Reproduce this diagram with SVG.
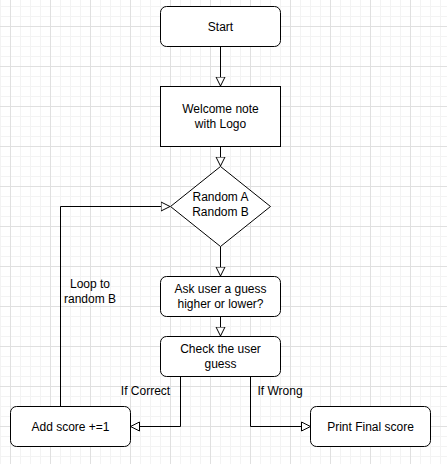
<svg xmlns="http://www.w3.org/2000/svg" width="447" height="464" viewBox="0 0 447 464">
<defs>
<pattern id="minor" x="0" y="6" width="10" height="10" patternUnits="userSpaceOnUse">
<path d="M0.5,0 V10 M0,0.5 H10" stroke="#f3f3f3" stroke-width="1" fill="none"/>
</pattern>
<pattern id="major" x="10" y="26" width="40" height="40" patternUnits="userSpaceOnUse">
<path d="M0.5,0 V40 M0,0.5 H40" stroke="#e0e0e0" stroke-width="1" fill="none"/>
</pattern>
<marker id="arr" markerUnits="userSpaceOnUse" markerWidth="11" markerHeight="11" refX="9.5" refY="5" orient="auto" viewBox="0 0 11 10">
<path d="M0.5,0.5 L9.5,5 L0.5,9.5 Z" fill="#ffffff" stroke="#000000" stroke-width="1"/>
</marker>
</defs>
<style>
.box{fill:#ffffff;stroke:#000000;stroke-width:1}
.t{font-family:"Liberation Sans",Arial,sans-serif;font-size:12px;fill:#000000;text-anchor:middle}
.c{fill:none;stroke:#000000;stroke-width:1;marker-end:url(#arr)}
</style>
<rect width="447" height="464" fill="#ffffff"/>
<rect width="447" height="464" fill="url(#minor)"/>
<rect width="447" height="464" fill="url(#major)"/>
<g id="connectors">
<path class="c" d="M220.5,46.5 V86"/>
<path class="c" d="M220.5,146.5 V166"/>
<path class="c" d="M220.5,246.5 V276"/>
<path class="c" d="M220.5,316.5 V336"/>
<path class="c" d="M180.5,376.5 V426.5 H130.5"/>
<path class="c" d="M250.5,376.5 V426.5 H310.5"/>
<path class="c" d="M60.5,406.5 V206.5 H170"/>
<text class="t" x="90" y="288">Loop to</text>
<text class="t" x="90" y="303">random B</text>
<text class="t" x="145.5" y="395">If Correct</text>
<text class="t" x="280" y="395">If Wrong</text>
</g>
<g id="start">
<rect class="box" x="160.5" y="6.5" width="120" height="40" rx="6" ry="6"/>
<text class="t" x="220.5" y="30.5">Start</text>
</g>
<g id="welcome">
<rect class="box" x="160.5" y="86.5" width="120" height="60"/>
<text class="t" x="220.5" y="113">Welcome note</text>
<text class="t" x="220.5" y="128">with Logo</text>
</g>
<g id="random">
<path class="box" d="M220.5,166.5 L270.5,206.5 L220.5,246.5 L170.5,206.5 Z"/>
<text class="t" x="220.5" y="201">Random A</text>
<text class="t" x="220.5" y="216">Random B</text>
</g>
<g id="ask">
<rect class="box" x="160.5" y="276.5" width="120" height="40" rx="6" ry="6"/>
<text class="t" x="220.5" y="293">Ask user a guess</text>
<text class="t" x="220.5" y="308">higher or lower?</text>
</g>
<g id="check">
<rect class="box" x="160.5" y="336.5" width="120" height="40" rx="6" ry="6"/>
<text class="t" x="220.5" y="353">Check the user</text>
<text class="t" x="220.5" y="368">guess</text>
</g>
<g id="add">
<rect class="box" x="10.5" y="406.5" width="120" height="40" rx="6" ry="6"/>
<text class="t" x="70.5" y="430.5">Add score +=1</text>
</g>
<g id="print">
<rect class="box" x="310.5" y="406.5" width="120" height="40" rx="6" ry="6"/>
<text class="t" x="370.5" y="430.5">Print Final score</text>
</g>
</svg>
